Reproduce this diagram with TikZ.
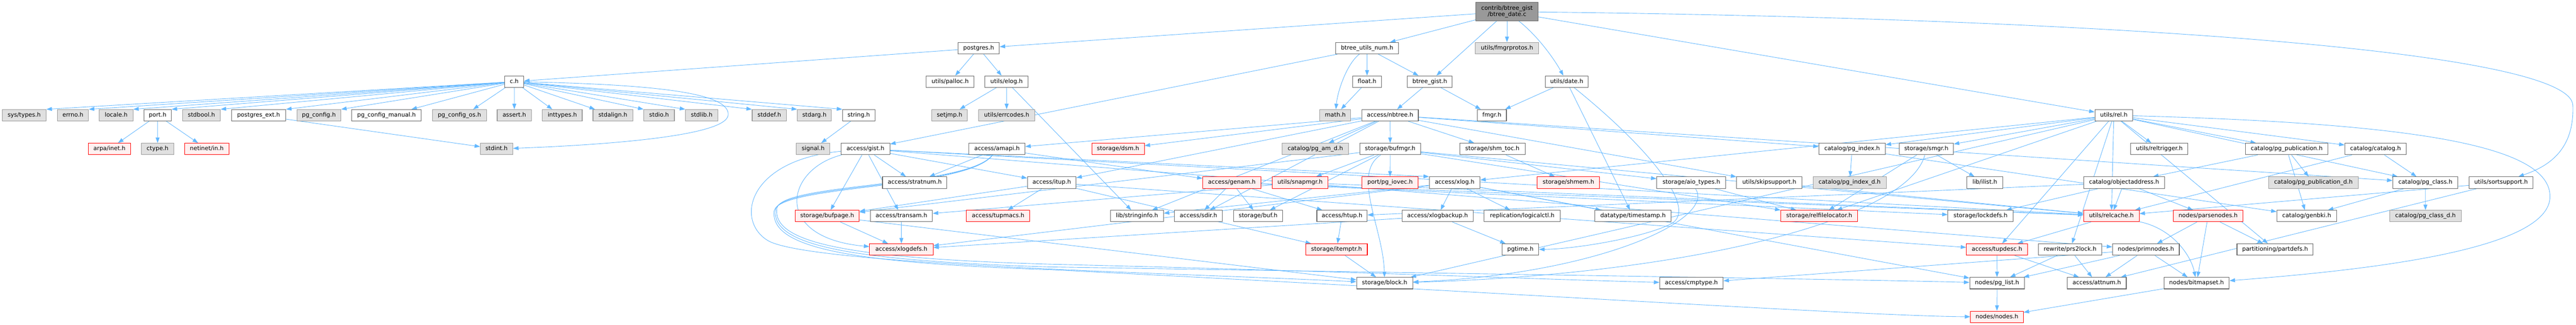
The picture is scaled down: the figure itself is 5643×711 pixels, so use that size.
\documentclass[tikz,border=0pt]{standalone}
\usepackage{fontspec}
\setmainfont{DejaVu Sans}
\usetikzlibrary{arrows.meta,backgrounds}
\definecolor{edgec}{HTML}{63B8FF}
\definecolor{bw}{HTML}{666666}
\definecolor{bgr}{HTML}{999999}
\definecolor{fgr}{HTML}{E0E0E0}
\definecolor{brd}{HTML}{FF0000}
\definecolor{frd}{HTML}{FFF0F0}
\definecolor{ftop}{HTML}{999999}
\tikzset{
  nb/.style={draw, rectangle, inner sep=0pt, minimum height=25pt, line width=1.2pt, text height=9.4pt, text depth=2.6pt, text=black},
  wn/.style={nb, draw=bw, fill=white},
  gn/.style={nb, draw=bgr, fill=fgr},
  rn/.style={nb, draw=brd, fill=frd},
  tn/.style={draw=bw, fill=ftop, rectangle, inner sep=0pt, minimum height=40pt, line width=1.2pt, align=center, text=black},
  e/.style={draw=edgec, line width=1pt, -{Triangle[length=12pt,width=8.5pt]}}
}
\begin{document}
\begin{tikzpicture}[x=1pt,y=-1pt,font=\fontsize{12.8pt}{14.5pt}\selectfont]
\useasboundingbox (0,0) rectangle (5643,711);
% row 0
\node[tn, minimum width=136.3pt] (top) at (3301.2,25.5) {contrib/btree\_gist\\/btree\_date.c};
% row 1
\node[wn, minimum width=91pt] (postgres) at (2143.8,105.4) {postgres.h};
\node[wn, minimum width=138.7pt] (bun) at (2994.7,105.4) {btree\_utils\_num.h};
\node[gn, minimum width=139pt] (fmgrprotos) at (3301.2,105.4) {utils/fmgrprotos.h};
% row 2
\node[wn, minimum width=41.6pt] (ch) at (1126.5,178.6) {c.h};
\node[wn, minimum width=105.3pt] (palloc) at (2081.3,178.6) {utils/palloc.h};
\node[wn, minimum width=94.6pt] (elog) at (2205,178.6) {utils/elog.h};
\node[wn, minimum width=62.7pt] (float) at (2994.7,178.6) {float.h};
\node[wn, minimum width=98.6pt] (bgist) at (3132,178.6) {btree\_gist.h};
\node[wn, minimum width=94.6pt] (date) at (3432,178.6) {utils/date.h};
% row 3
\node[gn, minimum width=96pt] (systypes) at (53,252.2) {sys/types.h};
\node[gn, minimum width=68.3pt] (errno) at (159.8,252.2) {errno.h};
\node[gn, minimum width=73.6pt] (locale) at (254.5,252.2) {locale.h};
\node[wn, minimum width=60pt] (port) at (345.3,252.2) {port.h};
\node[gn, minimum width=83pt] (stdbool) at (441.2,252.2) {stdbool.h};
\node[wn, minimum width=119pt] (pgext) at (566.5,252.2) {postgres\_ext.h};
\node[gn, minimum width=96.4pt] (pgconfig) at (698.5,252.2) {pg\_config.h};
\node[wn, minimum width=152pt] (pgcman) at (846.7,252.2) {pg\_config\_manual.h};
\node[gn, minimum width=119pt] (pgcos) at (1006.5,252.2) {pg\_config\_os.h};
\node[gn, minimum width=75.3pt] (assert) at (1126.7,252.2) {assert.h};
\node[gn, minimum width=87pt] (inttypes) at (1231.8,252.2) {inttypes.h};
\node[gn, minimum width=87pt] (stdalign) at (1342.5,252.2) {stdalign.h};
\node[gn, minimum width=67pt] (stdio) at (1443.8,252.2) {stdio.h};
\node[gn, minimum width=71pt] (stdlib) at (1537.2,252.2) {stdlib.h};
\node[gn, minimum width=75pt] (stddef) at (1685.2,252.2) {stddef.h};
\node[gn, minimum width=74.6pt] (stdarg) at (1784,252.2) {stdarg.h};
\node[wn, minimum width=71pt] (string) at (1881.2,252.2) {string.h};
\node[gn, minimum width=78.6pt] (setjmp) at (2080,252.2) {setjmp.h};
\node[gn, minimum width=123pt] (errcodes) at (2205.2,252.2) {utils/errcodes.h};
\node[gn, minimum width=67.7pt] (math) at (2925.2,252.2) {math.h};
\node[wn, minimum width=124pt] (nbtree) at (3045,252.2) {access/nbtree.h};
\node[wn, minimum width=64pt] (fmgr) at (3268,252.2) {fmgr.h};
\node[wn, minimum width=83pt] (rel) at (4630.5,252.2) {utils/rel.h};
% row 4
\node[rn, minimum width=92.3pt] (arpa) at (239.8,325.9) {arpa/inet.h};
\node[gn, minimum width=71pt] (ctype) at (345.2,325.9) {ctype.h};
\node[rn, minimum width=96.6pt] (netinet) at (453,325.9) {netinet/in.h};
\node[gn, minimum width=71pt] (stdint) at (1087.8,325.9) {stdint.h};
\node[gn, minimum width=73.7pt] (signal) at (1781.2,325.9) {signal.h};
\node[wn, minimum width=107pt] (gist) at (1895.8,325.9) {access/gist.h};
\node[wn, minimum width=122.6pt] (amapi) at (2184,325.9) {access/amapi.h};
\node[rn, minimum width=115pt] (dsm) at (2449.2,325.9) {storage/dsm.h};
\node[gn, minimum width=145.3pt] (pgamd) at (2881.3,325.9) {catalog/pg\_am\_d.h};
\node[wn, minimum width=133.3pt] (bufmgr) at (3045.3,325.9) {storage/bufmgr.h};
\node[wn, minimum width=143pt] (shmtoc) at (3269.2,325.9) {storage/shm\_toc.h};
\node[wn, minimum width=145.3pt] (pgindex) at (4057.3,325.9) {catalog/pg\_index.h};
\node[wn, minimum width=119pt] (smgr) at (4219.8,325.9) {storage/smgr.h};
\node[wn, minimum width=125.3pt] (reltrig) at (4730.3,325.9) {utils/reltrigger.h};
\node[wn, minimum width=181pt] (pgpub) at (5009.2,325.9) {catalog/pg\_publication.h};
\node[wn, minimum width=134.3pt] (catalog) at (5203.8,325.9) {catalog/catalog.h};
% row 5
\node[wn, minimum width=141pt] (stratnum) at (2003.8,399.5) {access/stratnum.h};
\node[wn, minimum width=106.6pt] (itup) at (2304,399.5) {access/itup.h};
\node[rn, minimum width=127pt] (genam) at (2698.5,399.5) {access/genam.h};
\node[rn, minimum width=122.6pt] (snapmgr) at (2848,399.5) {utils/snapmgr.h};
\node[rn, minimum width=122.6pt] (iovec) at (3045,399.5) {port/pg\_iovec.h};
\node[wn, minimum width=111pt] (xlog) at (3186.5,399.5) {access/xlog.h};
\node[rn, minimum width=136.3pt] (shmem) at (3435.8,399.5) {storage/shmem.h};
\node[wn, minimum width=151.4pt] (aio) at (3705,399.5) {storage/aio\_types.h};
\node[wn, minimum width=143pt] (skip) at (3875.8,399.5) {utils/skipsupport.h};
\node[gn, minimum width=160.3pt] (pgindexd) at (4051.8,399.5) {catalog/pg\_index\_d.h};
\node[wn, minimum width=78.6pt] (ilist) at (4348,399.5) {lib/ilist.h};
\node[wn, minimum width=177.4pt] (objaddr) at (4653,399.5) {catalog/objectaddress.h};
\node[gn, minimum width=196pt] (pgpubd) at (5067.7,399.5) {catalog/pg\_publication\_d.h};
\node[wn, minimum width=142.6pt] (pgclass) at (5313,399.5) {catalog/pg\_class.h};
\node[wn, minimum width=140pt] (sortsup) at (5478.7,399.5) {utils/sortsupport.h};
% row 6
\node[rn, minimum width=140.6pt] (bufpage) at (1812,472.7) {storage/bufpage.h};
\node[wn, minimum width=136pt] (transam) at (1974.7,472.7) {access/transam.h};
\node[rn, minimum width=139pt] (tupmacs) at (2186.5,472.7) {access/tupmacs.h};
\node[wn, minimum width=116pt] (strinfo) at (2490.7,472.7) {lib/stringinfo.h};
\node[wn, minimum width=105.3pt] (sdir) at (2625.3,472.7) {access/sdir.h};
\node[wn, minimum width=106.6pt] (buf) at (2756,472.7) {storage/buf.h};
\node[wn, minimum width=110.3pt] (htup) at (2939.8,472.7) {access/htup.h};
\node[wn, minimum width=155.7pt] (xlogbackup) at (3149.2,472.7) {access/xlogbackup.h};
\node[wn, minimum width=166.7pt] (logicalctl) at (3334.7,472.7) {replication/logicalctl.h};
\node[wn, minimum width=167pt] (timestamp) at (3577.2,472.7) {datatype/timestamp.h};
\node[rn, minimum width=168.3pt] (relfile) at (3985.2,472.7) {storage/relfilelocator.h};
\node[wn, minimum width=143pt] (lockdefs) at (4338.5,472.7) {storage/lockdefs.h};
\node[rn, minimum width=121.7pt] (relcache) at (4625.2,472.7) {utils/relcache.h};
\node[rn, minimum width=152pt] (parsenodes) at (4837,472.7) {nodes/parsenodes.h};
\node[wn, minimum width=130.6pt] (genbki) at (5053,472.7) {catalog/genbki.h};
\node[gn, minimum width=157pt] (pgclassd) at (5313.2,472.7) {catalog/pg\_class\_d.h};
% row 7
\node[rn, minimum width=139pt] (xlogdefs) at (1974.5,545.9) {access/xlogdefs.h};
\node[rn, minimum width=135pt] (itemptr) at (2927.8,545.9) {storage/itemptr.h};
\node[wn, minimum width=80.4pt] (pgtime) at (3330.5,545.9) {pgtime.h};
\node[rn, minimum width=133.6pt] (tupdesc) at (4374.5,545.9) {access/tupdesc.h};
\node[wn, minimum width=138.7pt] (prs2lock) at (4534.7,545.9) {rewrite/prs2lock.h};
\node[wn, minimum width=146.3pt] (primnodes) at (4700.8,545.9) {nodes/primnodes.h};
\node[wn, minimum width=166.7pt] (partdefs) at (4983.7,545.9) {partitioning/partdefs.h};
% row 8
\node[wn, minimum width=123pt] (block) at (3033.2,619.5) {storage/block.h};
\node[wn, minimum width=139pt] (cmptype) at (3705.2,619.5) {access/cmptype.h};
\node[wn, minimum width=120pt] (pglist) at (4374.7,619.5) {nodes/pg\_list.h};
\node[wn, minimum width=129pt] (attnum) at (4593.2,619.5) {access/attnum.h};
\node[wn, minimum width=143pt] (bitmapset) at (4811.8,619.5) {nodes/bitmapset.h};
% row 9
\node[rn, minimum width=115.6pt] (nodes) at (4374.5,693.1) {nodes/nodes.h};

\begin{pgfonlayer}{background}
\fill[white] (0,0) rectangle (5643,711);
% c.h fan
\foreach \t in {systypes,errno,locale,port,stdbool,pgext,pgconfig}
  \draw[e] (ch) -- (\t.north east);
\draw[e] (ch) -- ([xshift=-22pt]pgcman.north east);
\draw[e] (ch) -- ([xshift=30pt]pgcos.north);
\draw[e] (ch) -- (assert);
\draw[e] (ch) -- ([xshift=-22pt]inttypes.north);
\draw[e] (ch) -- ([xshift=5pt]stdalign.north west);
\foreach \t in {stdio,stdlib,stddef,stdarg,string}
  \draw[e] (ch) -- (\t.north west);
\draw[e] (ch) .. controls (1450,185) and (1600,205) .. (1595,252) .. controls (1590,300) and (1300,318) .. (stdint);
% special curves
\draw[e] (top) .. controls (3370,80) and (3405,130) .. (date);
\draw[e] (top) .. controls (4600,40) and (5630,110) .. (5636,230) .. controls (5640,330) and (5580,365) .. ([xshift=38pt]sortsup.north);
\draw[e] (bun) .. controls (2950,140) and (2930,200) .. (math);
\draw[e] (date) .. controls (3620,330) and (3720,460) .. (3660,490) .. controls (3600,520) and (3450,545) .. (pgtime);
\draw[e] (bufmgr) .. controls (2960,380) and (3030,500) .. (block);
\draw[e] (aio) .. controls (3760,480) and (3500,600) .. (block);
\draw[e] (smgr) .. controls (4180,480) and (3700,600) .. (block);
\draw[e] (rel) .. controls (5300,270) and (5586,320) .. (5586,430) .. controls (5586,545) and (5200,590) .. (bitmapset);
\draw[e] (relcache) .. controls (4760,500) and (4800,560) .. (bitmapset);
% loops left of storage/bufpage.h
\draw[e] (gist) .. controls (1720,370) and (1690,520) .. (xlogdefs);
\draw[e] (gist) .. controls (1640,350) and (1610,480) .. (1680,525) .. controls (1760,580) and (2600,598) .. (block);
\draw[e] (amapi) .. controls (2120,410) and (1715,400) .. (1702,455) .. controls (1690,530) and (1850,565) .. (2300,578) .. controls (3000,595) and (3400,612) .. (cmptype);
\draw[e] (amapi) .. controls (2120,412) and (1712,402) .. (1699,458) .. controls (1688,535) and (1850,570) .. (2300,584) .. controls (3300,600) and (4100,612) .. (pglist);
\draw[e] (amapi) .. controls (2120,414) and (1709,404) .. (1696,461) .. controls (1686,540) and (1850,575) .. (2300,590) .. controls (3300,640) and (4100,692) .. (nodes);
% straight edges
\foreach \a/\b in {top/postgres, top/bun, top/bgist, top/fmgrprotos, top/rel,
 bun/bgist, bun/gist, bun/float, float/math, bgist/nbtree, bgist/fmgr,
 date/fmgr, date/timestamp, postgres/ch, postgres/palloc, postgres/elog,
 port/arpa, port/ctype, port/netinet, pgext/stdint, string/signal,
 elog/setjmp, elog/errcodes, elog/strinfo,
 nbtree/amapi, nbtree/itup, nbtree/sdir, nbtree/pgamd, nbtree/pgclass, nbtree/pgindex, nbtree/strinfo, nbtree/bufmgr, nbtree/dsm, nbtree/shmtoc, nbtree/skip,
 gist/bufpage, gist/stratnum, gist/itup, gist/transam, gist/relcache, gist/primnodes,
 amapi/genam, amapi/stratnum,
 itup/tupdesc, itup/tupmacs, itup/bufpage, itup/itemptr,
 transam/xlogdefs, bufpage/xlogdefs, bufpage/block,
 genam/sdir, genam/buf, genam/htup, genam/lockdefs, genam/relcache,
 snapmgr/transam, snapmgr/relcache,
 bufmgr/iovec, bufmgr/aio, bufmgr/buf, bufmgr/bufpage, bufmgr/relfile, bufmgr/relcache, bufmgr/snapmgr,
 shmtoc/shmem,
 xlog/xlogbackup, xlog/xlogdefs, xlog/timestamp, xlog/strinfo, xlog/pglist, xlog/logicalctl,
 htup/itemptr, xlogbackup/xlogdefs, xlogbackup/pgtime, itemptr/block,
 aio/relfile, pgindex/pgindexd, pgindex/genbki, smgr/ilist, smgr/relfile, skip/relcache,
 rel/tupdesc, rel/xlog, rel/catalog, rel/pgclass, rel/pgindex, rel/pgpub, rel/partdefs, rel/prs2lock, rel/block, rel/relfile, rel/smgr, rel/relcache, rel/reltrig,
 objaddr/htup, objaddr/parsenodes, objaddr/lockdefs, objaddr/relcache,
 relcache/tupdesc, tupdesc/attnum, tupdesc/pglist, prs2lock/attnum, prs2lock/pglist,
 primnodes/bitmapset, primnodes/pglist, primnodes/attnum, primnodes/cmptype,
 pglist/nodes, pgpub/pgpubd, pgpub/genbki, pgpub/objaddr,
 catalog/pgclass, catalog/relcache,
 parsenodes/primnodes, parsenodes/bitmapset, parsenodes/partdefs,
 bitmapset/nodes, pgclass/pgclassd, pgclass/genbki,
 sortsup/relcache, sortsup/attnum}
  \draw[e] (\a) -- (\b);
\draw[e] (gist) -- (xlog.north west);
\end{pgfonlayer}
\end{tikzpicture}
\end{document}
